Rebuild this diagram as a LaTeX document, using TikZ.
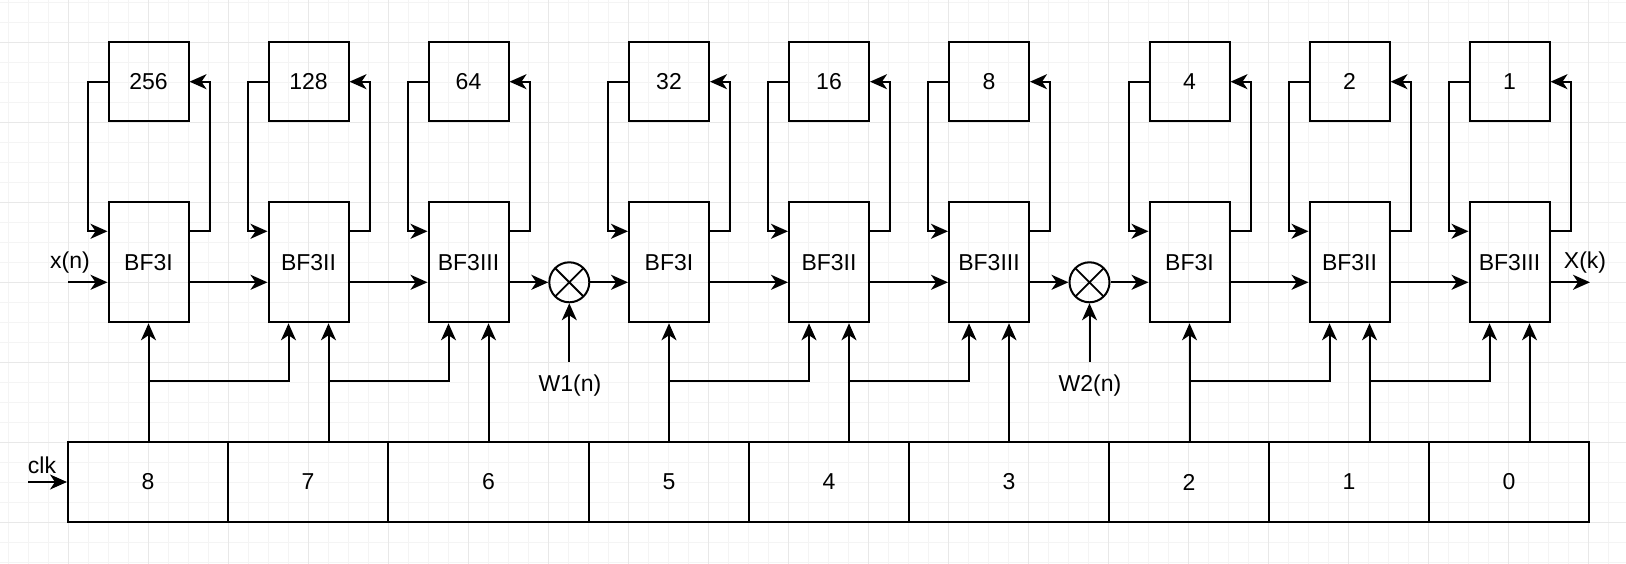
\documentclass[tikz,border=0pt]{standalone}
\usepackage{fontspec}
\setmainfont{Liberation Sans}
\usetikzlibrary{arrows.meta}

\definecolor{gridminor}{HTML}{F4F4F4}
\definecolor{gridmajor}{HTML}{E8E8E8}

\begin{document}
\begin{tikzpicture}[x=1pt,y=-1pt,
  every node/.style={font=\fontsize{23}{27}\selectfont},
  wire/.style={line width=2pt, line join=miter},
  arr/.style={wire, -{Stealth[length=17pt,width=15pt,inset=5pt]}},
  bfblock/.style={draw, line width=2pt, minimum width=80pt, minimum height=120pt, inner sep=0pt},
  delay/.style={draw, line width=2pt, minimum width=80pt, minimum height=79pt, inner sep=0pt},
  cell/.style={draw, line width=2pt, minimum height=80pt, inner sep=0pt},
  mixer/.style={draw, circle, line width=2pt, minimum size=40pt, inner sep=0pt,
    path picture={\draw[line width=1.8pt]
      (path picture bounding box.north west) -- (path picture bounding box.south east)
      (path picture bounding box.north east) -- (path picture bounding box.south west);}},
]
\useasboundingbox (0,0) rectangle (1626,564);

% background grid
\fill[white] (0,0) rectangle (1626,564);
\foreach \x in {8,28,...,1626} \draw[gridminor, line width=0.8pt] (\x,0) -- (\x,564);
\foreach \y in {2,22,...,564} \draw[gridminor, line width=0.8pt] (0,\y) -- (1626,\y);
\foreach \x in {68,148,...,1626} \draw[gridmajor, line width=0.8pt] (\x,0) -- (\x,564);
\foreach \y in {42,122,...,564} \draw[gridmajor, line width=0.8pt] (0,\y) -- (1626,\y);

% butterfly stages with their delay buffers
\foreach \i/\cx/\lab/\len in {1/148.5/BF3I/256, 2/308.5/BF3II/128, 3/468.5/BF3III/64,
                              4/669/BF3I/32, 5/829/BF3II/16, 6/989/BF3III/8,
                              7/1189.5/BF3I/4, 8/1349.5/BF3II/2, 9/1509.5/BF3III/1} {
  \node[bfblock] (s\i) at (\cx,262.3) {\lab};
  \node[delay] (t\i) at (\cx,81.7) {\len};
  \coordinate (sl\i) at ([xshift=-20pt]s\i.south);
  \coordinate (sr\i) at ([xshift=20pt]s\i.south);
  % feedback loop through the buffer
  \draw[arr] (t\i.west) -- ++(-20,0) |- ([yshift=-30pt]s\i.north west);
  \draw[arr] ([yshift=-30pt]s\i.north east) -- ++(20,0) |- (t\i.east);
}

% twiddle multipliers
\node[mixer] (m1) at (569.3,282.3) {};
\node[mixer] (m2) at (1089.5,282.3) {};

% data path
\coordinate (xin) at (68,282.3);
\coordinate (xout) at (1590,282.3);
\draw[arr] (xin) -- ([yshift=-20pt]s1.west);
\draw[arr] ([yshift=-20pt]s1.east) -- ([yshift=-20pt]s2.west);
\draw[arr] ([yshift=-20pt]s2.east) -- ([yshift=-20pt]s3.west);
\draw[arr] ([yshift=-20pt]s3.east) -- (m1.west);
\draw[arr] (m1.east) -- ([yshift=-20pt]s4.west);
\draw[arr] ([yshift=-20pt]s4.east) -- ([yshift=-20pt]s5.west);
\draw[arr] ([yshift=-20pt]s5.east) -- ([yshift=-20pt]s6.west);
\draw[arr] ([yshift=-20pt]s6.east) -- (m2.west);
\draw[arr] (m2.east) -- ([yshift=-20pt]s7.west);
\draw[arr] ([yshift=-20pt]s7.east) -- ([yshift=-20pt]s8.west);
\draw[arr] ([yshift=-20pt]s8.east) -- ([yshift=-20pt]s9.west);
\draw[arr] ([yshift=-20pt]s9.east) -- (xout);

% twiddle inputs
\coordinate (w1in) at (569.3,362);
\coordinate (w2in) at (1089.5,362);
\draw[arr] (w1in) -- (m1.south);
\draw[arr] (w2in) -- (m2.south);

% counter register
\foreach \n/\l/\r in {8/68/228, 7/228/388, 6/388/589, 5/589/749, 4/749/909,
                      3/909/1109, 2/1109/1269, 1/1269/1429, 0/1429/1589} {
  \pgfmathsetmacro\w{\r-\l}
  \pgfmathsetmacro\c{(\l+\r)/2}
  \node[cell, minimum width=\w pt] (c\n) at (\c,482) {\n};
}
\coordinate (clkin) at (28,482);
\draw[arr] (clkin) -- (c8.west);

% control lines from the counter bits
\draw[arr] (s1.south |- c8.north) -- (s1.south);
\draw[arr] (s1.south |- c8.north) -- ++(0,-60) -| (sl2);
\draw[arr] (sr2 |- c7.north) -- (sr2);
\draw[arr] (sr2 |- c7.north) -- ++(0,-60) -| (sl3);
\draw[arr] (sr3 |- c6.north) -- (sr3);
\draw[arr] (s4.south |- c5.north) -- (s4.south);
\draw[arr] (s4.south |- c5.north) -- ++(0,-60) -| (sl5);
\draw[arr] (sr5 |- c4.north) -- (sr5);
\draw[arr] (sr5 |- c4.north) -- ++(0,-60) -| (sl6);
\draw[arr] (sr6 |- c3.north) -- (sr6);
\draw[arr] (s7.south |- c2.north) -- (s7.south);
\draw[arr] (s7.south |- c2.north) -- ++(0,-60) -| (sl8);
\draw[arr] (sr8 |- c1.north) -- (sr8);
\draw[arr] (sr8 |- c1.north) -- ++(0,-60) -| (sl9);
\draw[arr] (sr9 |- c0.north) -- (sr9);

% labels
\node (lxn) at (70,263) {x(n)};
\node (lxk) at (1585,263) {X(k)};
\node (lclk) at (42,465) {clk};
\node (lw1) at (570,385.5) {W1(n)};
\node (lw2) at (1090,385.5) {W2(n)};
\end{tikzpicture}
\end{document}
